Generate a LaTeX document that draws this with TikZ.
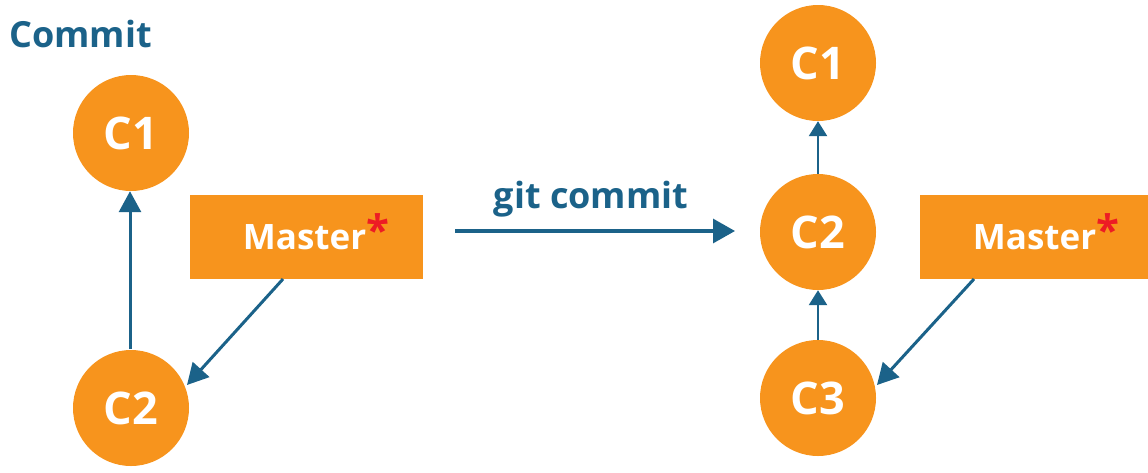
\documentclass[tikz,border=0pt]{standalone}
\usepackage{fontspec}
\setmainfont{Open Sans}
\usetikzlibrary{arrows.meta}
\definecolor{eorange}{HTML}{F7941D}
\definecolor{eblue}{HTML}{1B6289}
\definecolor{ered}{HTML}{ED1C24}
\tikzset{
  commit/.style={circle, fill=eorange, minimum size=116pt, inner sep=0pt, text=white, font=\fontsize{45}{47}\selectfont\bfseries},
  branch/.style={fill=eorange, minimum height=84pt, inner sep=0pt, text=white, font=\fontsize{35}{38}\selectfont\bfseries},
  link/.style={draw=eblue, line width=3pt, -{Triangle[length=21pt,width=22pt]}},
  shortlink/.style={draw=eblue, line width=2.6pt, -{Triangle[length=15pt,width=18pt]}},
  biglink/.style={draw=eblue, line width=3.2pt, -{Triangle[length=22pt,width=24pt]}},
  label/.style={text=eblue, font=\fontsize{36}{38}\selectfont\bfseries, inner sep=0pt}
}
\newcommand{\masterstar}{Master\smash{\raisebox{4pt}{\textcolor{ered}{\fontsize{42}{42}\selectfont *}}}}
\begin{document}
\begin{tikzpicture}[x=1pt,y=-1pt]
\useasboundingbox (0,0) rectangle (1148,472);
\node[label, anchor=west] (title) at (9,34) {Commit};
% left
\node[commit] (lc1) at (131,133) {C1};
\node[commit] (lc2) at (131,408) {C2};
\node[branch, minimum width=233pt] (lm) at (306,237) {\hspace*{20pt}\masterstar};
\coordinate (lc2t) at (130,349);
\draw[link] (lc2t) -- (lc2t |- lc1.south);
\coordinate (lms) at (283,279);
\coordinate (lc2e) at (187,385);
\draw[link] (lms) -- (lc2e);
% git commit
\coordinate (ga) at (455,231);
\coordinate (gb) at (735,231);
\draw[biglink] (ga) -- (gb) node[label, midway, above=12pt, xshift=-4pt] (gc) {git commit};
% right
\node[commit] (rc1) at (818,63) {C1};
\node[commit] (rc2) at (818,232) {C2};
\node[commit] (rc3) at (818,398) {C3};
\draw[shortlink] (rc2) -- (rc1);
\draw[shortlink] (rc3) -- (rc2);
\node[branch, minimum width=240pt] (rm) at (1040,237) {\hspace*{12pt}\masterstar};
\coordinate (rms) at (974,279);
\coordinate (rc3e) at (877,385);
\draw[link] (rms) -- (rc3e);
\end{tikzpicture}
\end{document}
